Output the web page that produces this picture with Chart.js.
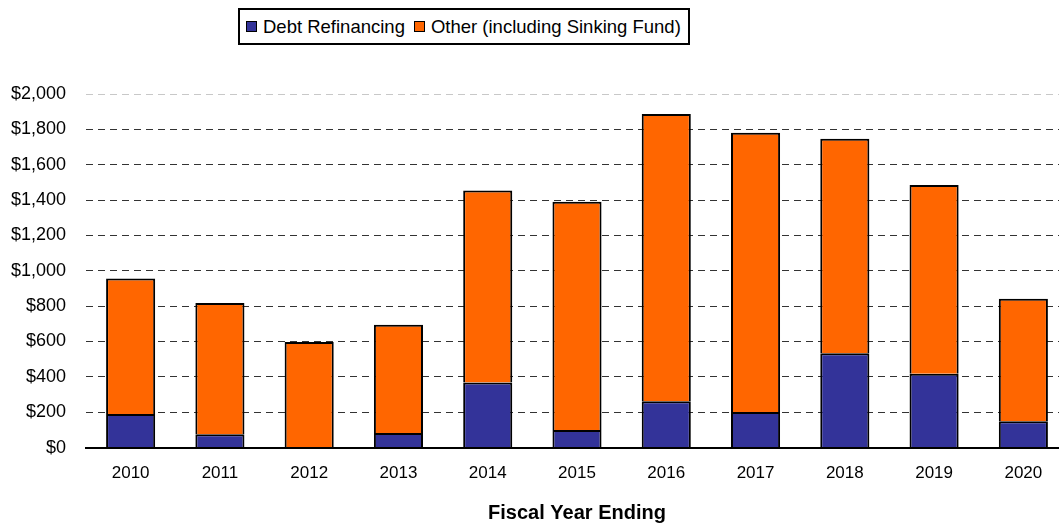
<!DOCTYPE html>
<html>
<head>
<meta charset="utf-8">
<script src="https://cdn.jsdelivr.net/npm/chart.js@4"></script>
<style>
  html, body { margin: 0; padding: 0; background: #fff; overflow: hidden; }
  .wrap { position: relative; width: 1070px; height: 525px; }
  canvas { display: block; }
  #legend {
    position: absolute; left: 238px; top: 8px;
    box-sizing: border-box; width: 452px; height: 37px;
    border: 2px solid #000; background: #fff;
    display: flex; align-items: center; padding-left: 6px;
    font: 18.5px 'Liberation Sans', Arial, sans-serif; color: #000;
    white-space: nowrap;
  }
  #legend .item { display: flex; align-items: center; margin-right: 9px; }
  #legend .swatch {
    box-sizing: border-box; width: 11px; height: 11px;
    border: 1px solid #000; margin-right: 6px;
  }
</style>
</head>
<body>
<div class="wrap">
  <canvas id="chart" width="1070" height="525"></canvas>
  <div id="legend"></div>
</div>
<script>
  var years = ["2010", "2011", "2012", "2013", "2014", "2015", "2016", "2017", "2018", "2019", "2020"];
  var debtRefinancing = [190, 75, 0, 83, 368, 100, 262, 202, 533, 417, 149];
  var otherIncludingSinking = [766, 743, 597, 612, 1086, 1290, 1625, 1579, 1214, 1069, 693];
  var yTicks = [0, 200, 400, 600, 800, 1000, 1200, 1400, 1600, 1800, 2000];

  var FONT = "'Liberation Sans', Arial, sans-serif";

  var chart = new Chart(document.getElementById("chart"), {
    type: "bar",
    data: {
      labels: years,
      datasets: [
        {
          label: "Debt Refinancing",
          data: debtRefinancing,
          backgroundColor: "#333399",
          borderColor: "#000",
          borderWidth: 2,
          borderSkipped: "bottom"
        },
        {
          label: "Other (including Sinking Fund)",
          data: otherIncludingSinking,
          backgroundColor: "#FF6600",
          borderColor: "#000",
          borderWidth: 2,
          // the blue segment's top edge already outlines the join
          borderSkipped: "bottom"
        }
      ]
    },
    options: {
      responsive: false,
      animation: false,
      layout: { padding: { left: 10, right: 2, top: 94, bottom: 0 } },
      plugins: {
        legend: { display: false },
        tooltip: { enabled: false }
      },
      datasets: {
        bar: { barPercentage: 0.55, categoryPercentage: 1 }
      },
      scales: {
        x: {
          stacked: true,
          grid: { display: false, drawTicks: false },
          border: { display: true, color: "#000", width: 2 },
          ticks: {
            color: "#000",
            padding: 16,
            font: { family: FONT, size: 17 }
          },
          title: {
            display: true,
            text: "Fiscal Year Ending",
            color: "#000",
            padding: { top: 1, bottom: 0 },
            font: { family: FONT, size: 20, weight: "bold" }
          }
        },
        y: {
          stacked: true,
          min: 0,
          max: 2000,
          afterBuildTicks: function (scale) {
            scale.ticks = yTicks.map(function (v) { return { value: v }; });
          },
          afterFit: function (scale) { scale.width = 76; },
          grid: {
            drawTicks: false,
            lineWidth: 1,
            color: function (ctx) {
              return ctx.tick && ctx.tick.value === 2000 ? "#c8c8c8" : "#333";
            }
          },
          border: { display: false, dash: [7, 5] },
          ticks: {
            color: "#000",
            padding: 20,
            font: { family: FONT, size: 18 },
            callback: function (v) { return "$" + Number(v).toLocaleString("en-US"); }
          }
        }
      }
    }
  });

  // framed legend above the plot, built from the datasets
  var legendEl = document.getElementById("legend");
  chart.data.datasets.forEach(function (ds) {
    var item = document.createElement("span");
    item.className = "item";
    var sw = document.createElement("span");
    sw.className = "swatch";
    sw.style.background = ds.backgroundColor;
    var txt = document.createElement("span");
    txt.textContent = ds.label;
    item.appendChild(sw);
    item.appendChild(txt);
    legendEl.appendChild(item);
  });
</script>
</body>
</html>
